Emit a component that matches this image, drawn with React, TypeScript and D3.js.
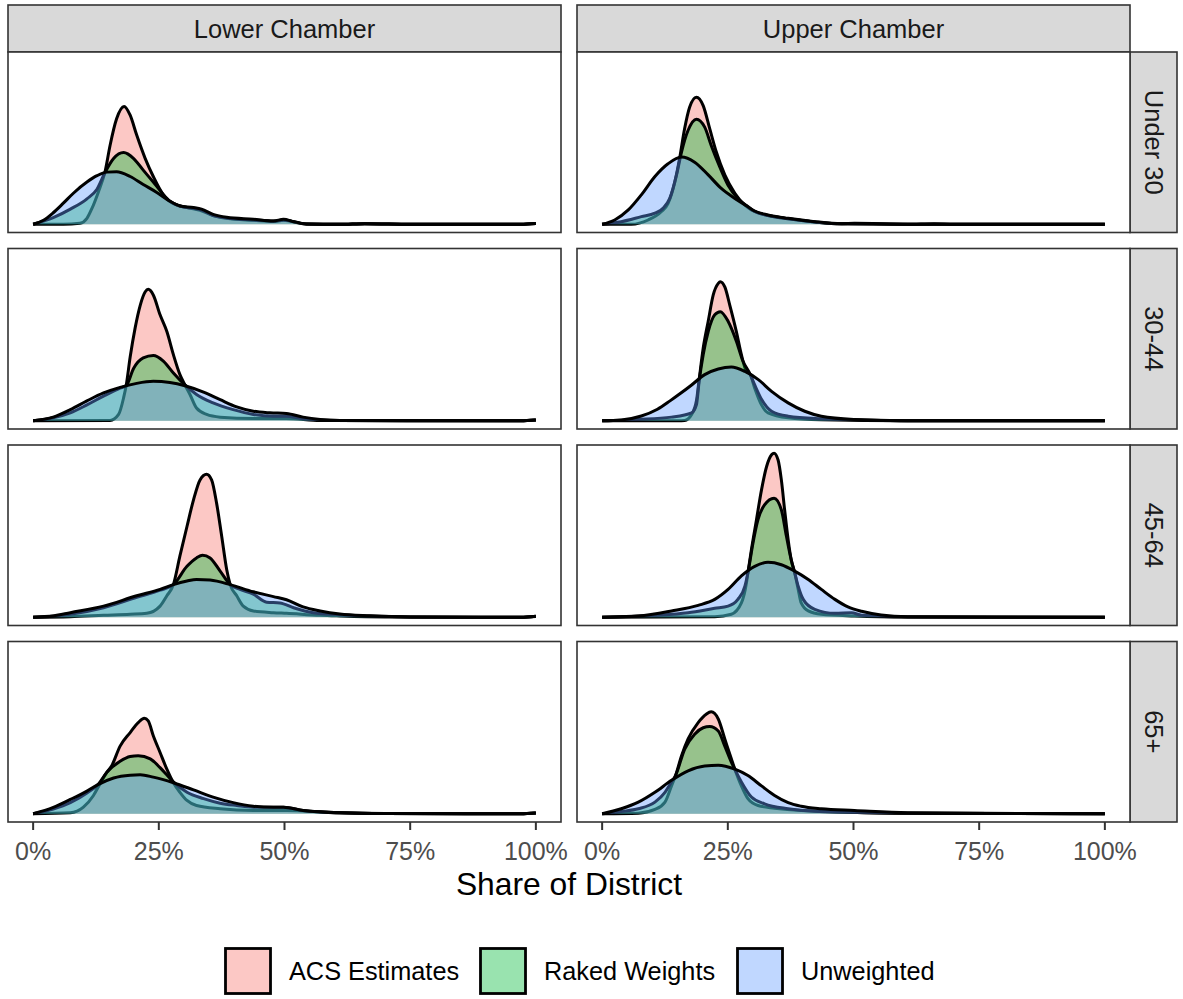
import React from 'react';
import * as d3 from 'd3';

// [share of district in %, density]
const lowerU30Acs = [[0, 0], [6, 0], [9.3, 0.13], [10.7, 0.75], [11.7, 2.0], [13.0, 4.1], [14.3, 6.6], [15.3, 9.9], [16.6, 13.25], [18.1, 14.8], [19.3, 13.7], [20.6, 11.2], [22.3, 8.25], [23.9, 6.0], [25.9, 3.7], [26.9, 3.0], [28.6, 2.4], [30.6, 2.1], [33.2, 1.75], [35.8, 1.1], [38.5, 0.75], [43.8, 0.5], [47.8, 0.35], [49.8, 0.5], [54, 0.05], [61, 0], [66, 0.08], [75, 0.02], [97, 0], [100, 0.1]];
const lowerU30Raked = [[0, 0], [4.0, 0.83], [7.4, 1.9], [10.7, 3.2], [12.7, 4.4], [14.3, 6.5], [16.0, 8.25], [18.0, 9.0], [20.0, 8.25], [21.9, 6.8], [23.9, 5.3], [26.6, 3.25], [27.2, 2.9], [29.2, 2.3], [31.9, 2.0], [33.5, 1.8], [35.8, 1.1], [38.5, 0.8], [43.8, 0.55], [47.8, 0.4], [49.8, 0.55], [54.4, 0.05], [61, 0], [66, 0.08], [75, 0.02], [97, 0], [100, 0.1]];
const lowerU30Unw = [[0, 0], [2.05, 0.5], [4.0, 1.45], [6.0, 2.65], [8.0, 3.9], [10.7, 5.3], [12.7, 6.1], [14.65, 6.55], [16.6, 6.6], [19.3, 6.0], [21.9, 5.0], [24.6, 4.0], [27.2, 2.9], [29.2, 2.3], [31.9, 2.1], [33.5, 1.9], [35.8, 1.25], [38.5, 0.88], [43.8, 0.63], [47.8, 0.42], [49.8, 0.63], [51.8, 0.33], [54.4, 0.04], [61, 0], [66, 0.08], [75, 0.02], [97, 0], [100, 0.1]];

const upperU30Acs = [[0, 0], [5.8, 0], [9.15, 0.54], [11.8, 1.6], [13.1, 2.6], [14.45, 5.3], [15.4, 8.25], [16.4, 12.0], [17.4, 14.7], [18.75, 15.95], [20.1, 14.9], [21.4, 12.0], [22.7, 9.1], [24.4, 6.2], [26.4, 3.9], [28.4, 2.4], [29.7, 1.8], [33.0, 1.1], [37, 0.7], [42.3, 0.3], [47.6, 0.06], [60.8, 0], [100, 0]];
const upperU30Raked = [[0, 0], [3.8, 0.33], [7.8, 0.96], [10.5, 1.4], [12.1, 2.0], [13.45, 3.25], [14.8, 6.2], [15.8, 9.1], [17.1, 11.8], [18.75, 13.2], [20.4, 12.2], [21.7, 9.9], [23.4, 7.2], [25.05, 4.9], [27.0, 3.25], [29.0, 2.2], [30.35, 1.6], [33.0, 1.1], [37, 0.7], [42.3, 0.3], [47.6, 0.06], [60.8, 0], [100, 0]];
const upperU30Unw = [[0, 0], [2.5, 0.54], [5.2, 1.8], [7.8, 3.7], [10.5, 6.0], [13.1, 7.6], [15.8, 8.45], [18.4, 7.8], [21.1, 6.2], [23.7, 4.5], [26.4, 3.25], [29.0, 2.2], [30.35, 1.67], [33.0, 1.17], [37.0, 0.75], [42.3, 0.33], [47.6, 0.08], [50.2, 0.12], [60.8, 0], [66, 0.08], [70, 0], [100, 0]];

const lower3044Acs = [[0, 0], [15.3, 0.04], [17.0, 0.8], [18.0, 2.9], [18.5, 4.4], [19.3, 8.0], [20.3, 11.7], [21.3, 14.5], [22.3, 16.2], [22.9, 16.5], [23.9, 15.8], [25.25, 13.3], [26.6, 11.2], [27.9, 8.3], [29.2, 5.8], [30.2, 4.5], [31.2, 3.3], [32.5, 1.6], [34.5, 0.8], [37.2, 0.46], [43.8, 0.29], [50.4, 0.29], [57.1, 0.04], [97, 0], [100, 0.1]];
const lower3044Raked = [[0, 0], [4.0, 0.38], [7.4, 1.0], [10.7, 2.0], [14.0, 3.1], [17.3, 4.1], [18.5, 4.4], [20.0, 6.6], [21.9, 7.9], [23.9, 8.2], [25.9, 7.5], [27.9, 6.0], [30.2, 4.5], [32.5, 3.3], [35.8, 2.25], [39.8, 1.4], [43.8, 0.8], [47.8, 0.58], [50.4, 0.58], [53.7, 0.25], [61, 0.04], [97, 0], [100, 0.1]];
const lower3044Unw = [[0, 0], [4.0, 0.46], [7.4, 1.4], [10.7, 2.5], [14.0, 3.5], [17.3, 4.2], [20.6, 4.7], [23.9, 4.95], [27.2, 4.8], [30.2, 4.4], [33.9, 3.6], [37.2, 2.65], [40.5, 1.75], [43.8, 1.2], [47.1, 1.0], [50.4, 0.92], [53.7, 0.46], [57.1, 0.17], [61, 0.04], [97, 0], [100, 0.1]];

const upper3044Acs = [[0, 0], [15.1, 0], [16.4, 0.04], [17.8, 0.8], [18.75, 2.5], [19.3, 5.2], [20.1, 9.1], [21.1, 12.5], [22.1, 15.8], [23.1, 17.25], [23.5, 17.45], [24.4, 16.8], [25.4, 14.5], [26.7, 11.2], [27.7, 8.3], [28.7, 6.2], [29.4, 5.9], [30.35, 4.1], [31.7, 2.0], [33.0, 1.0], [37.0, 0.38], [43.6, 0.13], [60.8, 0], [100, 0]];
const upper3044Raked = [[0, 0], [7.2, 0.17], [13.8, 0.46], [17.8, 1.0], [18.75, 2.0], [19.3, 5.0], [20.1, 8.3], [21.1, 11.2], [22.4, 13.3], [23.5, 13.7], [25.05, 12.5], [26.7, 10.0], [28.0, 7.5], [29.4, 5.9], [30.35, 4.5], [31.7, 2.7], [33.7, 1.2], [37.0, 0.58], [43.6, 0.25], [50.2, 0.13], [60.8, 0], [100, 0]];
const upper3044Unw = [[0, 0], [3.8, 0.1], [7.8, 0.6], [11.0, 1.45], [13.5, 2.5], [15.6, 3.45], [17.8, 4.5], [20.4, 5.8], [23.1, 6.5], [25.7, 6.75], [28.4, 6.2], [31.0, 5.2], [33.7, 3.7], [37.0, 2.25], [40.3, 1.2], [43.6, 0.58], [50.2, 0.17], [60.8, 0], [100, 0]];

const lower4564Acs = [[0, 0], [7.4, 0.08], [14.0, 0.25], [19.3, 0.38], [22.6, 0.5], [25.25, 1.4], [26.6, 2.7], [27.9, 4.1], [29.2, 7.7], [30.6, 11.4], [31.9, 14.75], [33.2, 17.25], [34.5, 17.95], [35.5, 17.25], [36.5, 14.3], [37.5, 10.2], [38.5, 6.0], [39.2, 4.1], [40.5, 2.7], [41.8, 1.4], [43.8, 0.8], [47.8, 0.58], [50.4, 0.5], [57.1, 0.25], [61, 0.17], [70, 0.05], [97, 0], [100, 0.1]];
const lower4564Raked = [[0, 0], [7.4, 0.38], [14.0, 1.2], [20.6, 2.5], [25.25, 3.4], [27.9, 4.1], [30.6, 6.4], [32.5, 7.45], [33.7, 7.8], [35.2, 7.45], [37.2, 5.8], [39.2, 4.1], [41.15, 3.5], [43.8, 2.9], [46.45, 1.9], [49.1, 1.8], [51.8, 1.2], [55.7, 0.58], [61, 0.33], [67, 0.15], [75, 0.05], [97, 0], [100, 0.12]];
const lower4564Unw = [[0, 0], [4.0, 0.17], [7.4, 0.58], [14.0, 1.4], [20.6, 2.7], [25.25, 3.5], [27.9, 4.1], [30.6, 4.55], [32.5, 4.75], [35.2, 4.67], [39.2, 4.1], [43.8, 3.2], [47.8, 2.6], [50.4, 2.2], [53.7, 1.3], [57.1, 0.8], [61, 0.42], [67, 0.2], [75, 0.05], [97, 0], [100, 0.12]];

const upper4564Acs = [[0, 0], [22.4, 0.08], [25.7, 0.38], [27.7, 1.8], [28.7, 4.3], [29.0, 5.6], [29.7, 8.5], [30.7, 12.25], [31.7, 16.0], [32.7, 18.9], [33.7, 20.4], [34.2, 20.6], [35.0, 19.75], [35.65, 17.25], [36.3, 13.5], [37.0, 9.75], [37.6, 7.25], [38.3, 5.6], [39.0, 3.5], [39.6, 1.8], [41.0, 0.8], [43.6, 0.38], [50.2, 0.17], [60.8, 0.04], [100, 0]];
const upper4564Raked = [[0, 0], [10.5, 0.25], [17.1, 0.58], [22.4, 1.13], [25.05, 1.4], [27.0, 2.25], [28.4, 3.9], [29.0, 5.6], [30.0, 9.3], [31.0, 12.25], [32.3, 14.1], [34.2, 14.95], [35.65, 13.5], [36.65, 10.2], [37.6, 7.25], [38.3, 5.6], [39.0, 3.9], [40.0, 2.25], [42.3, 1.0], [46.3, 0.5], [49.6, 0.58], [51.6, 0.25], [60.8, 0.04], [100, 0]];
const upper4564Unw = [[0, 0], [7.2, 0.17], [13.8, 0.8], [19.1, 1.5], [22.4, 2.25], [25.05, 3.5], [27.7, 5.2], [30.35, 6.4], [33.0, 6.9], [35.65, 6.6], [38.3, 5.8], [41.0, 4.75], [43.6, 3.5], [46.3, 2.25], [48.9, 1.3], [51.6, 0.75], [55.5, 0.29], [60.8, 0.08], [100, 0]];

const lower65Acs = [[0, 0], [7.4, 0.13], [10.0, 0.83], [12.0, 2.3], [13.3, 3.75], [14.65, 5.2], [15.6, 6.0], [17.3, 8.5], [19.3, 10.2], [20.9, 11.45], [22.1, 12.0], [22.9, 11.65], [23.9, 9.8], [25.25, 7.7], [26.6, 5.6], [27.9, 3.9], [29.2, 2.7], [30.6, 1.67], [32.5, 1.04], [37.2, 0.63], [43.8, 0.42], [50.4, 0.42], [61, 0.13], [70, 0.04], [97, 0], [100, 0.1]];
const lower65Raked = [[0, 0], [4.0, 0.6], [7.4, 1.4], [10.7, 2.6], [13.0, 3.75], [14.65, 5.2], [17.3, 6.6], [19.3, 7.2], [20.9, 7.3], [23.3, 6.9], [25.25, 5.8], [27.9, 4.0], [30.6, 2.7], [33.9, 1.9], [37.2, 1.33], [40.5, 1.04], [43.8, 0.83], [49.8, 0.83], [53.7, 0.42], [61, 0.13], [70, 0.04], [97, 0], [100, 0.1]];
const lower65Unw = [[0, 0], [4.0, 0.8], [7.4, 1.8], [10.7, 2.85], [13.0, 3.7], [16.0, 4.5], [19.3, 4.85], [21.3, 4.9], [23.9, 4.6], [27.9, 3.9], [31.9, 3.0], [35.8, 2.1], [39.8, 1.4], [43.8, 0.96], [47.8, 0.83], [49.8, 0.83], [53.7, 0.42], [61, 0.13], [70, 0.04], [97, 0], [100, 0.1]];

const upper65Acs = [[0, 0], [7.2, 0.08], [10.5, 0.54], [12.5, 1.46], [13.8, 3.5], [14.6, 4.8], [15.8, 7.3], [17.1, 9.4], [19.1, 11.45], [20.7, 12.5], [21.7, 12.8], [23.1, 11.9], [24.4, 9.4], [25.7, 6.9], [26.4, 5.6], [27.7, 3.5], [29.0, 1.9], [31.0, 1.04], [34.3, 0.71], [39.6, 0.42], [60.8, 0.08], [100, 0]];
const upper65Raked = [[0, 0], [3.8, 0.29], [7.2, 0.63], [10.5, 1.46], [12.5, 2.7], [13.8, 4.0], [14.6, 4.8], [16.4, 8.1], [18.4, 10.0], [20.1, 10.8], [21.4, 10.95], [23.1, 10.4], [24.4, 8.5], [25.7, 6.5], [26.7, 5.2], [27.7, 4.0], [29.7, 2.1], [32.3, 1.25], [37.0, 0.63], [42.3, 0.33], [60.8, 0.08], [100, 0]];
const upper65Unw = [[0, 0], [3.8, 0.63], [7.2, 1.46], [10.5, 2.7], [13.8, 4.2], [17.1, 5.4], [20.4, 6.0], [23.1, 6.1], [26.4, 5.6], [29.0, 4.8], [31.7, 3.5], [34.3, 2.3], [37.0, 1.4], [39.6, 0.95], [43.6, 0.63], [50.2, 0.42], [60.8, 0.13], [100, 0]];

const chambers = ['Lower Chamber', 'Upper Chamber'];
const ageGroups = ['Under 30', '30-44', '45-64', '65+'];
const seriesNames = ['ACS Estimates', 'Raked Weights', 'Unweighted'];
const seriesColors = ['#F8766D', '#00BA38', '#619CFF'];
const xTicks = [0, 25, 50, 75, 100];

// rows = age group, cols = chamber, each cell = [acs, raked, unweighted]
const panelData = [
    [[lowerU30Acs, lowerU30Raked, lowerU30Unw], [upperU30Acs, upperU30Raked, upperU30Unw]],
    [[lower3044Acs, lower3044Raked, lower3044Unw], [upper3044Acs, upper3044Raked, upper3044Unw]],
    [[lower4564Acs, lower4564Raked, lower4564Unw], [upper4564Acs, upper4564Raked, upper4564Unw]],
    [[lower65Acs, lower65Raked, lower65Unw], [upper65Acs, upper65Raked, upper65Unw]],
];

const FONT = '"Liberation Sans", Arial, Helvetica, sans-serif';

const App = () => {
    const width = 1183;
    const height = 999;
    const panelW = 553;
    const panelH = 180.5;
    const gap = 16;
    const left0 = 8;
    const top0 = 52;
    const stripH = 47;

    const yMax = d3.max(panelData.flat(3), (d: any) => d[1]) as number;

    const colLeft = chambers.map((_, i) => left0 + i * (panelW + gap));
    const rowTop = ageGroups.map((_, i) => top0 + i * (panelH + gap));
    const rightEdge = colLeft[1] + panelW;
    const bottomEdge = rowTop[3] + panelH;

    const xScales = colLeft.map((l) =>
        d3.scaleLinear().domain([-5, 105]).range([l, l + panelW])
    );
    const yScales = rowTop.map((t) =>
        d3.scaleLinear().domain([-0.05 * yMax, 1.05 * yMax]).range([t + panelH, t])
    );

    // legend layout
    const keySize = 48;
    const legendTextW = [169, 171, 131];
    const legendY = 947;
    let lx = 224;
    const legendItems = seriesNames.map((name, i) => {
        const item = { name, color: seriesColors[i], x: lx };
        lx += keySize + 17 + legendTextW[i] + 21;
        return item;
    });

    return (
        <svg
            width={width}
            height={height}
            style={{ position: 'absolute', left: 0, top: 0, background: '#fff' }}
            fontFamily={FONT}
        >
            {/* column strips */}
            {chambers.map((c, i) => (
                <g key={c}>
                    <rect x={colLeft[i]} y={top0 - stripH} width={panelW} height={stripH}
                        fill="#D9D9D9" stroke="#333333" strokeWidth={1.6} />
                    <text x={colLeft[i] + panelW / 2} y={top0 - stripH / 2} textAnchor="middle"
                        dominantBaseline="central" fontSize={25.5} fill="#1A1A1A">{c}</text>
                </g>
            ))}

            {/* row strips */}
            {ageGroups.map((a, j) => (
                <g key={a}>
                    <rect x={rightEdge} y={rowTop[j]} width={stripH} height={panelH}
                        fill="#D9D9D9" stroke="#333333" strokeWidth={1.6} />
                    <text transform={`translate(${rightEdge + stripH / 2},${rowTop[j] + panelH / 2}) rotate(90)`}
                        textAnchor="middle" dominantBaseline="central" fontSize={25.5} fill="#1A1A1A">{a}</text>
                </g>
            ))}

            {/* panels */}
            {panelData.map((row, j) =>
                row.map((cell, i) => {
                    const x = xScales[i];
                    const y = yScales[j];
                    const area = d3.area<number[]>()
                        .x((d) => x(d[0]))
                        .y0(y(0))
                        .y1((d) => y(d[1]))
                        .curve(d3.curveMonotoneX);
                    const line = d3.line<number[]>()
                        .x((d) => x(d[0]))
                        .y((d) => y(d[1]))
                        .curve(d3.curveMonotoneX);
                    return (
                        <g key={`${i}-${j}`}>
                            <rect x={colLeft[i]} y={rowTop[j]} width={panelW} height={panelH} fill="#fff" />
                            {cell.map((series, k) => (
                                <g key={k}>
                                    <path d={area(series as number[][]) || ''} fill={seriesColors[k]} fillOpacity={0.4} />
                                    <path d={line(series as number[][]) || ''} fill="none" stroke="#000" strokeWidth={3}
                                        strokeLinejoin="round" strokeLinecap="butt" />
                                </g>
                            ))}
                            <rect x={colLeft[i]} y={rowTop[j]} width={panelW} height={panelH}
                                fill="none" stroke="#333333" strokeWidth={1.6} />
                        </g>
                    );
                })
            )}

            {/* x axes */}
            {xScales.map((x, i) => (
                <g key={i}>
                    {xTicks.map((t) => (
                        <g key={t}>
                            <line x1={x(t)} x2={x(t)} y1={bottomEdge} y2={bottomEdge + 8} stroke="#333333" strokeWidth={2} />
                            <text x={x(t)} y={bottomEdge + 29} textAnchor="middle" dominantBaseline="central"
                                fontSize={25} fill="#4D4D4D">{`${t}%`}</text>
                        </g>
                    ))}
                </g>
            ))}
            <text x={(colLeft[0] + rightEdge) / 2} y={884} textAnchor="middle" dominantBaseline="central"
                fontSize={31.8} fill="#000">Share of District</text>

            {/* legend */}
            {legendItems.map((it) => (
                <g key={it.name}>
                    <rect x={it.x} y={legendY} width={keySize} height={keySize} fill="#fff" />
                    <rect x={it.x + 1.5} y={legendY + 1.5} width={keySize - 3} height={keySize - 3}
                        fill={it.color} fillOpacity={0.4} stroke="#000" strokeWidth={2.8} />
                    <text x={it.x + keySize + 17} y={legendY + keySize / 2} dominantBaseline="central"
                        fontSize={25.3} fill="#000">{it.name}</text>
                </g>
            ))}
        </svg>
    );
};

export default App;
